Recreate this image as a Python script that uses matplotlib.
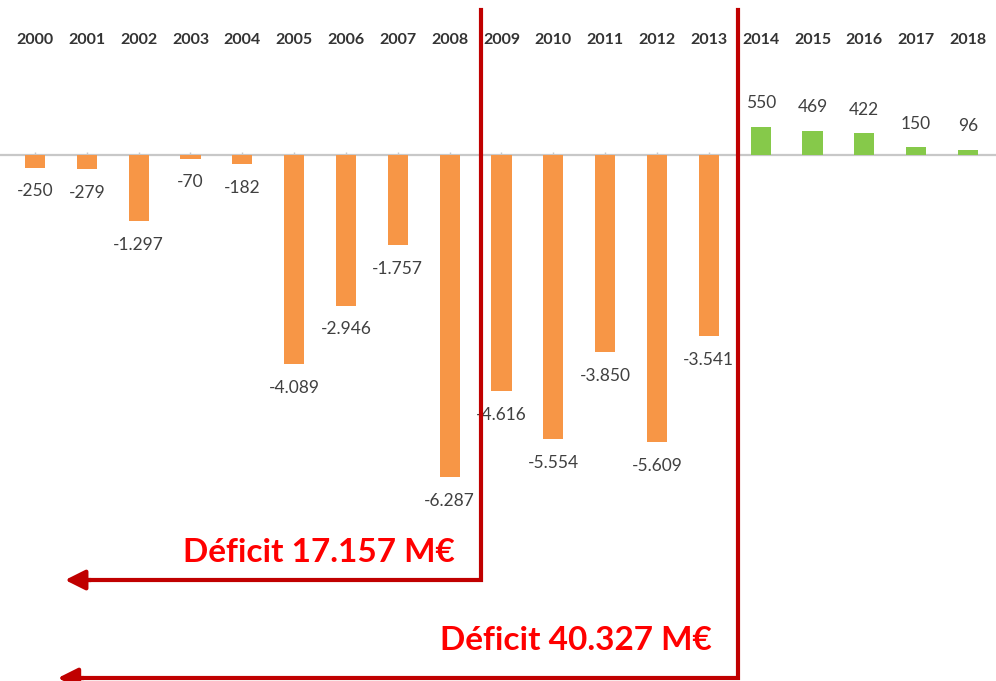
import matplotlib
matplotlib.use("Agg")
import matplotlib.pyplot as plt

# data
years = [str(y) for y in range(2000, 2019)]
values = [-250, -279, -1297, -70, -182, -4089, -2946, -1757, -6287,
          -4616, -5554, -3850, -5609, -3541, 550, 469, 422, 150, 96]
deficit_labels = ["Déficit 17.157 M€", "Déficit 40.327 M€"]

orange = "#F79646"
green = "#86C94A"
red_line = "#C00000"
red_text = "#FF0000"
label_col = "#404040"


def fmt(v):
    # thousands separator as a dot
    s = f"{abs(v):,}".replace(",", ".")
    return ("-" if v < 0 else "") + s


fig = plt.figure(figsize=(9.96, 6.81), dpi=100)
ax = fig.add_axes([0, 0, 1, 1])
ax.set_xlim(-0.675, 18.54)
ax.set_ylim(-10273, 3027)
ax.axis("off")

x = list(range(len(years)))
colors = [orange if v < 0 else green for v in values]
ax.bar(x, values, width=0.39, color=colors, zorder=2)

# baseline with small ticks
ax.axhline(0, color="#C8C8C8", lw=1.6, zorder=1)
ax.vlines(x, 0, 60, color="#C8C8C8", lw=1, zorder=1)

# year labels on top
for xi, yr in zip(x, years):
    ax.text(xi, 1 - 40 / 681, yr, transform=ax.get_xaxis_transform(),
            ha="center", va="center", fontsize=11.5, fontweight="bold",
            color="#333333", family="Lato")

# value labels
for xi, v in zip(x, values):
    off = 17 if v > 0 else -17
    ax.annotate(fmt(v), (xi, v), xytext=(0, off), textcoords="offset points",
                ha="center", va="center", fontsize=12.5, color=label_col,
                family="Lato", zorder=3)

# red brackets with arrows
brackets = [
    (8.605, -8301, 0.58, 8.10, -7754, deficit_labels[0]),
    (13.564, -10215, 0.44, 13.06, -9473, deficit_labels[1]),
]
for xl, yb, xt, xtxt, ytxt, lab in brackets:
    ax.plot([xl, xl, xt + 0.3], [2832, yb, yb], color=red_line, lw=3,
            solid_joinstyle="miter", zorder=5)
    ax.annotate("", xy=(xt, yb), xytext=(xt + 0.5, yb),
                arrowprops=dict(arrowstyle="-|>", color=red_line, lw=3,
                                mutation_scale=30, shrinkA=0, shrinkB=0),
                zorder=5)
    ax.text(xtxt, ytxt, lab, ha="right", va="center", fontsize=24,
            fontweight="bold", color=red_text, family="Lato", zorder=5)

fig.savefig("out.png", dpi=100, facecolor="white")
